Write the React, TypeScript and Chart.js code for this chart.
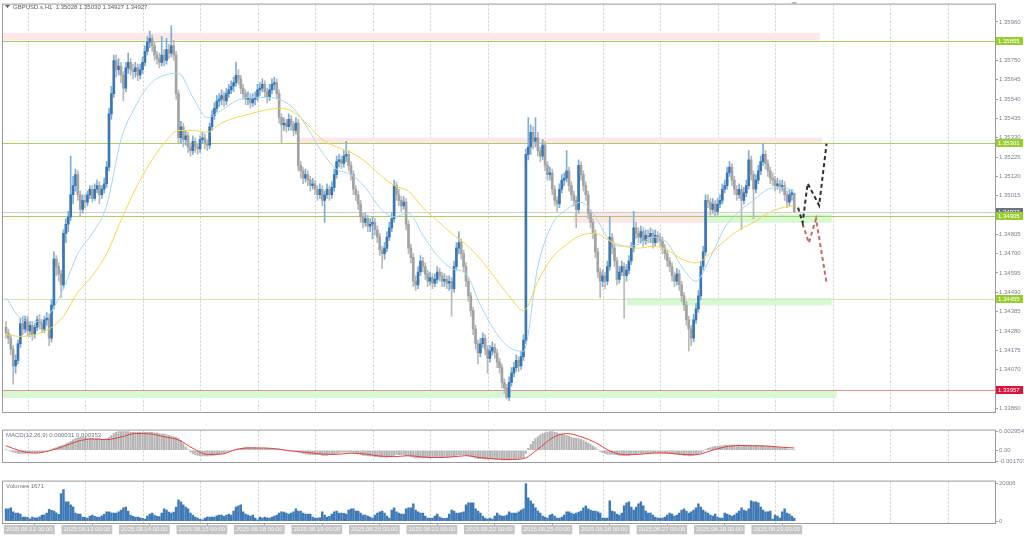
import React, { useEffect, useRef } from "react";
import { Chart, registerables } from "chart.js";

Chart.register(...registerables);

const FONT = "'Liberation Sans', Arial, sans-serif";

// ---- hourly candles (index = bar number, 2025.08.12 -> 2025.08.29) ----
const opens = [
  1.3430, 1.3427, 1.3424, 1.3418, 1.3409, 1.3412, 1.3421, 1.3432, 1.3429, 1.3434,
  1.3428, 1.3431, 1.3426, 1.3430, 1.3434, 1.3432, 1.3429, 1.3434, 1.3435, 1.3424,
  1.3442, 1.3467, 1.3463, 1.3459, 1.3453, 1.3481, 1.3486, 1.3490, 1.3502, 1.3507,
  1.3513, 1.3502, 1.3494, 1.3499, 1.3498, 1.3502, 1.3505, 1.3500, 1.3505, 1.3507,
  1.3502, 1.3505, 1.3508, 1.3517, 1.3546, 1.3557, 1.3575, 1.3570, 1.3572, 1.3567,
  1.3560, 1.3571, 1.3574, 1.3570, 1.3569, 1.3571, 1.3567, 1.3570, 1.3574, 1.3580,
  1.3585, 1.3587, 1.3583, 1.3578, 1.3576, 1.3574, 1.3578, 1.3575, 1.3581, 1.3579,
  1.3583, 1.3578, 1.3557, 1.3533, 1.3539, 1.3532, 1.3534, 1.3528, 1.3526, 1.3531,
  1.3528, 1.3527, 1.3532, 1.3533, 1.3530, 1.3529, 1.3539, 1.3545, 1.3549, 1.3553,
  1.3554, 1.3556, 1.3553, 1.3557, 1.3559, 1.3561, 1.3563, 1.3567, 1.3565, 1.3560,
  1.3557, 1.3554, 1.3555, 1.3552, 1.3554, 1.3555, 1.3559, 1.3560, 1.3562, 1.3558,
  1.3555, 1.3559, 1.3562, 1.3563, 1.3557, 1.3544, 1.3540, 1.3541, 1.3539, 1.3543,
  1.3540, 1.3537, 1.3541, 1.3518, 1.3515, 1.3511, 1.3513, 1.3510, 1.3507, 1.3508,
  1.3505, 1.3502, 1.3505, 1.3499, 1.3502, 1.3505, 1.3502, 1.3506, 1.3513, 1.3520,
  1.3521, 1.3519, 1.3523, 1.3524, 1.3518, 1.3513, 1.3505, 1.3502, 1.3497, 1.3490,
  1.3487, 1.3489, 1.3485, 1.3486, 1.3487, 1.3483, 1.3479, 1.3472, 1.3470, 1.3473,
  1.3479, 1.3484, 1.3489, 1.3507, 1.3502, 1.3499, 1.3496, 1.3498, 1.3486, 1.3473,
  1.3468, 1.3455, 1.3453, 1.3460, 1.3466, 1.3463, 1.3459, 1.3455, 1.3457, 1.3454,
  1.3456, 1.3460, 1.3458, 1.3455, 1.3456, 1.3454, 1.3455, 1.3451, 1.3463, 1.3473,
  1.3476, 1.3470, 1.3463, 1.3455, 1.3447, 1.3439, 1.3429, 1.3421, 1.3416, 1.3421,
  1.3424, 1.3418, 1.3413, 1.3417, 1.3419, 1.3416, 1.3411, 1.3408, 1.3400, 1.3397,
  1.3392, 1.3400, 1.3405, 1.3408, 1.3412, 1.3409, 1.3414, 1.3423, 1.3524, 1.3528,
  1.3536, 1.3531, 1.3533, 1.3526, 1.3523, 1.3529, 1.3518, 1.3513, 1.3514, 1.3505,
  1.3499, 1.3497, 1.3505, 1.3510, 1.3511, 1.3515, 1.3507, 1.3502, 1.3499, 1.3494,
  1.3518, 1.3513, 1.3507, 1.3502, 1.3492, 1.3487, 1.3481, 1.3471, 1.3460, 1.3455,
  1.3458, 1.3455, 1.3463, 1.3479, 1.3473, 1.3466, 1.3456, 1.3460, 1.3463, 1.3458,
  1.3461, 1.3466, 1.3473, 1.3484, 1.3481, 1.3479, 1.3482, 1.3477, 1.3480, 1.3479,
  1.3481, 1.3476, 1.3480, 1.3479, 1.3477, 1.3473, 1.3470, 1.3466, 1.3463, 1.3458,
  1.3455, 1.3459, 1.3453, 1.3447, 1.3442, 1.3434, 1.3429, 1.3424, 1.3434, 1.3440,
  1.3447, 1.3463, 1.3471, 1.3499, 1.3498, 1.3494, 1.3497, 1.3493, 1.3497, 1.3499,
  1.3505, 1.3507, 1.3514, 1.3517, 1.3510, 1.3505, 1.3502, 1.3505, 1.3499, 1.3503,
  1.3507, 1.3521, 1.3513, 1.3505, 1.3510, 1.3515, 1.3520, 1.3524, 1.3519, 1.3515,
  1.3511, 1.3510, 1.3507, 1.3508, 1.3506, 1.3507, 1.3502, 1.3498, 1.3502, 1.35028,
];
const highs = [
  1.3433, 1.3429, 1.3426, 1.3420, 1.3415, 1.3423, 1.3435, 1.3436, 1.3436, 1.3436,
  1.3433, 1.3433, 1.3432, 1.3436, 1.3437, 1.3434, 1.3436, 1.3438, 1.3437, 1.3445,
  1.3471, 1.3469, 1.3465, 1.3461, 1.3483, 1.3489, 1.3493, 1.3523, 1.3512, 1.3516,
  1.3515, 1.3504, 1.3502, 1.3502, 1.3504, 1.3507, 1.3507, 1.3508, 1.3510, 1.3509,
  1.3507, 1.3511, 1.3520, 1.3549, 1.3561, 1.3578, 1.3578, 1.3576, 1.3574, 1.3569,
  1.3574, 1.3579, 1.3576, 1.3573, 1.3574, 1.3573, 1.3573, 1.3577, 1.3583, 1.3588,
  1.3591, 1.3589, 1.3585, 1.3580, 1.3579, 1.3588, 1.3581, 1.3587, 1.3584, 1.3594,
  1.3586, 1.3580, 1.3559, 1.3542, 1.3541, 1.3537, 1.3536, 1.3530, 1.3534, 1.3533,
  1.3530, 1.3534, 1.3536, 1.3535, 1.3532, 1.3541, 1.3548, 1.3552, 1.3556, 1.3557,
  1.3559, 1.3558, 1.3560, 1.3562, 1.3564, 1.3566, 1.3574, 1.3570, 1.3567, 1.3562,
  1.3559, 1.3558, 1.3557, 1.3557, 1.3558, 1.3562, 1.3563, 1.3565, 1.3564, 1.3560,
  1.3562, 1.3565, 1.3566, 1.3565, 1.3559, 1.3546, 1.3544, 1.3543, 1.3546, 1.3545,
  1.3542, 1.3544, 1.3543, 1.3520, 1.3517, 1.3516, 1.3515, 1.3512, 1.3511, 1.3510,
  1.3507, 1.3508, 1.3507, 1.3504, 1.3508, 1.3507, 1.3509, 1.3516, 1.3523, 1.3524,
  1.3523, 1.3526, 1.3531, 1.3526, 1.3520, 1.3515, 1.3507, 1.3504, 1.3499, 1.3492,
  1.3492, 1.3491, 1.3489, 1.3490, 1.3489, 1.3485, 1.3481, 1.3474, 1.3476, 1.3482,
  1.3487, 1.3492, 1.3510, 1.3509, 1.3505, 1.3501, 1.3501, 1.3500, 1.3488, 1.3475,
  1.3470, 1.3458, 1.3463, 1.3469, 1.3468, 1.3465, 1.3461, 1.3460, 1.3459, 1.3459,
  1.3463, 1.3462, 1.3460, 1.3459, 1.3458, 1.3458, 1.3457, 1.3466, 1.3476, 1.3482,
  1.3478, 1.3472, 1.3465, 1.3457, 1.3449, 1.3441, 1.3431, 1.3423, 1.3424, 1.3427,
  1.3426, 1.3420, 1.3420, 1.3422, 1.3421, 1.3418, 1.3413, 1.3410, 1.3402, 1.3399,
  1.3403, 1.3408, 1.3411, 1.3415, 1.3414, 1.3417, 1.3426, 1.3527, 1.3544, 1.3540,
  1.3539, 1.3544, 1.3536, 1.3528, 1.3532, 1.3531, 1.3520, 1.3517, 1.3516, 1.3507,
  1.3501, 1.3508, 1.3513, 1.3514, 1.3526, 1.3517, 1.3509, 1.3504, 1.3501, 1.3521,
  1.3520, 1.3515, 1.3509, 1.3504, 1.3494, 1.3489, 1.3483, 1.3473, 1.3462, 1.3461,
  1.3460, 1.3466, 1.3490, 1.3481, 1.3475, 1.3468, 1.3463, 1.3466, 1.3465, 1.3464,
  1.3469, 1.3476, 1.3493, 1.3487, 1.3484, 1.3485, 1.3484, 1.3483, 1.3483, 1.3484,
  1.3483, 1.3483, 1.3482, 1.3481, 1.3479, 1.3475, 1.3472, 1.3468, 1.3465, 1.3460,
  1.3462, 1.3461, 1.3455, 1.3449, 1.3444, 1.3436, 1.3431, 1.3437, 1.3443, 1.3450,
  1.3466, 1.3474, 1.3502, 1.3502, 1.3500, 1.3500, 1.3499, 1.3500, 1.3502, 1.3508,
  1.3510, 1.3517, 1.3520, 1.3519, 1.3512, 1.3507, 1.3508, 1.3507, 1.3506, 1.3510,
  1.3526, 1.3523, 1.3515, 1.3513, 1.3518, 1.3523, 1.3530, 1.3526, 1.3521, 1.3517,
  1.3514, 1.3512, 1.3511, 1.3510, 1.3510, 1.3509, 1.3504, 1.3505, 1.3505, 1.35030,
];
const lows = [
  1.3424, 1.3421, 1.3415, 1.3399, 1.3405, 1.3410, 1.3419, 1.3426, 1.3427, 1.3425,
  1.3425, 1.3423, 1.3424, 1.3428, 1.3429, 1.3427, 1.3427, 1.3431, 1.3420, 1.3422,
  1.3440, 1.3458, 1.3455, 1.3446, 1.3451, 1.3476, 1.3482, 1.3488, 1.3497, 1.3504,
  1.3499, 1.3490, 1.3492, 1.3495, 1.3496, 1.3500, 1.3498, 1.3499, 1.3503, 1.3497,
  1.3500, 1.3503, 1.3506, 1.3515, 1.3543, 1.3555, 1.3566, 1.3567, 1.3563, 1.3553,
  1.3558, 1.3568, 1.3567, 1.3565, 1.3566, 1.3564, 1.3565, 1.3568, 1.3572, 1.3578,
  1.3582, 1.3580, 1.3575, 1.3573, 1.3571, 1.3572, 1.3572, 1.3573, 1.3576, 1.3577,
  1.3575, 1.3554, 1.3530, 1.3530, 1.3528, 1.3529, 1.3525, 1.3523, 1.3524, 1.3525,
  1.3524, 1.3525, 1.3530, 1.3527, 1.3526, 1.3527, 1.3537, 1.3543, 1.3547, 1.3550,
  1.3551, 1.3550, 1.3551, 1.3555, 1.3557, 1.3558, 1.3561, 1.3562, 1.3557, 1.3554,
  1.3551, 1.3551, 1.3549, 1.3550, 1.3551, 1.3553, 1.3556, 1.3558, 1.3555, 1.3552,
  1.3553, 1.3557, 1.3559, 1.3554, 1.3541, 1.3530, 1.3537, 1.3536, 1.3537, 1.3537,
  1.3534, 1.3535, 1.3515, 1.3511, 1.3508, 1.3509, 1.3507, 1.3504, 1.3505, 1.3502,
  1.3499, 1.3500, 1.3496, 1.3487, 1.3500, 1.3499, 1.3500, 1.3504, 1.3511, 1.3517,
  1.3516, 1.3517, 1.3520, 1.3515, 1.3510, 1.3502, 1.3499, 1.3494, 1.3487, 1.3484,
  1.3485, 1.3482, 1.3482, 1.3478, 1.3480, 1.3476, 1.3469, 1.3462, 1.3467, 1.3471,
  1.3477, 1.3482, 1.3487, 1.3499, 1.3496, 1.3493, 1.3494, 1.3483, 1.3470, 1.3465,
  1.3452, 1.3450, 1.3451, 1.3458, 1.3460, 1.3456, 1.3452, 1.3453, 1.3451, 1.3452,
  1.3454, 1.3455, 1.3452, 1.3452, 1.3451, 1.3450, 1.3436, 1.3449, 1.3461, 1.3470,
  1.3467, 1.3460, 1.3452, 1.3444, 1.3436, 1.3426, 1.3418, 1.3410, 1.3414, 1.3419,
  1.3415, 1.3405, 1.3411, 1.3415, 1.3413, 1.3408, 1.3405, 1.3397, 1.3394, 1.3391,
  1.3390, 1.3398, 1.3403, 1.3406, 1.3406, 1.3407, 1.3412, 1.3421, 1.3521, 1.3524,
  1.3527, 1.3528, 1.3523, 1.3520, 1.3521, 1.3515, 1.3510, 1.3510, 1.3502, 1.3496,
  1.3493, 1.3495, 1.3503, 1.3507, 1.3509, 1.3504, 1.3499, 1.3496, 1.3484, 1.3492,
  1.3510, 1.3504, 1.3499, 1.3489, 1.3484, 1.3478, 1.3468, 1.3457, 1.3446, 1.3452,
  1.3451, 1.3453, 1.3461, 1.3470, 1.3463, 1.3453, 1.3454, 1.3458, 1.3435, 1.3455,
  1.3459, 1.3464, 1.3471, 1.3478, 1.3476, 1.3476, 1.3474, 1.3475, 1.3476, 1.3476,
  1.3473, 1.3474, 1.3476, 1.3474, 1.3470, 1.3467, 1.3463, 1.3460, 1.3455, 1.3452,
  1.3453, 1.3450, 1.3444, 1.3439, 1.3431, 1.3417, 1.3420, 1.3422, 1.3432, 1.3438,
  1.3445, 1.3461, 1.3469, 1.3495, 1.3491, 1.3492, 1.3490, 1.3491, 1.3495, 1.3497,
  1.3503, 1.3505, 1.3512, 1.3507, 1.3502, 1.3499, 1.3500, 1.3483, 1.3497, 1.3501,
  1.3505, 1.3510, 1.3489, 1.3503, 1.3508, 1.3513, 1.3518, 1.3516, 1.3512, 1.3508,
  1.3507, 1.3504, 1.3505, 1.3503, 1.3504, 1.3499, 1.3495, 1.3496, 1.3499, 1.34927,
];
const closes = [
  1.3427, 1.3424, 1.3418, 1.3409, 1.3412, 1.3421, 1.3432, 1.3429, 1.3434, 1.3428,
  1.3431, 1.3426, 1.3430, 1.3434, 1.3432, 1.3429, 1.3434, 1.3435, 1.3424, 1.3442,
  1.3467, 1.3463, 1.3459, 1.3453, 1.3481, 1.3486, 1.3490, 1.3502, 1.3507, 1.3513,
  1.3502, 1.3494, 1.3499, 1.3498, 1.3502, 1.3505, 1.3500, 1.3505, 1.3507, 1.3502,
  1.3505, 1.3508, 1.3517, 1.3546, 1.3557, 1.3575, 1.3570, 1.3572, 1.3567, 1.3560,
  1.3571, 1.3574, 1.3570, 1.3569, 1.3571, 1.3567, 1.3570, 1.3574, 1.3580, 1.3585,
  1.3587, 1.3583, 1.3578, 1.3576, 1.3574, 1.3578, 1.3575, 1.3581, 1.3579, 1.3583,
  1.3578, 1.3557, 1.3533, 1.3539, 1.3532, 1.3534, 1.3528, 1.3526, 1.3531, 1.3528,
  1.3527, 1.3532, 1.3533, 1.3530, 1.3529, 1.3539, 1.3545, 1.3549, 1.3553, 1.3554,
  1.3556, 1.3553, 1.3557, 1.3559, 1.3561, 1.3563, 1.3567, 1.3565, 1.3560, 1.3557,
  1.3554, 1.3555, 1.3552, 1.3554, 1.3555, 1.3559, 1.3560, 1.3562, 1.3558, 1.3555,
  1.3559, 1.3562, 1.3563, 1.3557, 1.3544, 1.3540, 1.3541, 1.3539, 1.3543, 1.3540,
  1.3537, 1.3541, 1.3518, 1.3515, 1.3511, 1.3513, 1.3510, 1.3507, 1.3508, 1.3505,
  1.3502, 1.3505, 1.3499, 1.3502, 1.3505, 1.3502, 1.3506, 1.3513, 1.3520, 1.3521,
  1.3519, 1.3523, 1.3524, 1.3518, 1.3513, 1.3505, 1.3502, 1.3497, 1.3490, 1.3487,
  1.3489, 1.3485, 1.3486, 1.3487, 1.3483, 1.3479, 1.3472, 1.3470, 1.3473, 1.3479,
  1.3484, 1.3489, 1.3507, 1.3502, 1.3499, 1.3496, 1.3498, 1.3486, 1.3473, 1.3468,
  1.3455, 1.3453, 1.3460, 1.3466, 1.3463, 1.3459, 1.3455, 1.3457, 1.3454, 1.3456,
  1.3460, 1.3458, 1.3455, 1.3456, 1.3454, 1.3455, 1.3451, 1.3463, 1.3473, 1.3476,
  1.3470, 1.3463, 1.3455, 1.3447, 1.3439, 1.3429, 1.3421, 1.3416, 1.3421, 1.3424,
  1.3418, 1.3413, 1.3417, 1.3419, 1.3416, 1.3411, 1.3408, 1.3400, 1.3397, 1.3392,
  1.3400, 1.3405, 1.3408, 1.3412, 1.3409, 1.3414, 1.3423, 1.3524, 1.3528, 1.3536,
  1.3531, 1.3533, 1.3526, 1.3523, 1.3529, 1.3518, 1.3513, 1.3514, 1.3505, 1.3499,
  1.3497, 1.3505, 1.3510, 1.3511, 1.3515, 1.3507, 1.3502, 1.3499, 1.3494, 1.3518,
  1.3513, 1.3507, 1.3502, 1.3492, 1.3487, 1.3481, 1.3471, 1.3460, 1.3455, 1.3458,
  1.3455, 1.3463, 1.3479, 1.3473, 1.3466, 1.3456, 1.3460, 1.3463, 1.3458, 1.3461,
  1.3466, 1.3473, 1.3484, 1.3481, 1.3479, 1.3482, 1.3477, 1.3480, 1.3479, 1.3481,
  1.3476, 1.3480, 1.3479, 1.3477, 1.3473, 1.3470, 1.3466, 1.3463, 1.3458, 1.3455,
  1.3459, 1.3453, 1.3447, 1.3442, 1.3434, 1.3429, 1.3424, 1.3434, 1.3440, 1.3447,
  1.3463, 1.3471, 1.3499, 1.3498, 1.3494, 1.3497, 1.3493, 1.3497, 1.3499, 1.3505,
  1.3507, 1.3514, 1.3517, 1.3510, 1.3505, 1.3502, 1.3505, 1.3499, 1.3503, 1.3507,
  1.3521, 1.3513, 1.3505, 1.3510, 1.3515, 1.3520, 1.3524, 1.3519, 1.3515, 1.3511,
  1.3510, 1.3507, 1.3508, 1.3506, 1.3507, 1.3502, 1.3498, 1.3502, 1.3503, 1.34927,
];
const volumes = [
  6500, 6500, 7000, 4900, 4300, 4300, 3800, 2200, 2200, 2000,
  1200, 2100, 1700, 1800, 2300, 3200, 3400, 4300, 6300, 5800,
  5300, 4400, 3600, 14600, 16800, 10300, 10300, 8600, 7600, 4300,
  3800, 3800, 2200, 2000, 1600, 2700, 3200, 2500, 2200, 2200,
  2800, 3600, 4900, 4900, 4400, 4300, 4300, 5000, 5900, 7000,
  7500, 5400, 3200, 2600, 2200, 2200, 1700, 1500, 1100, 2700,
  3800, 4300, 3200, 2600, 2400, 4300, 6500, 5900, 4800, 4300,
  4800, 7500, 11300, 10200, 8600, 7500, 6500, 4300, 3200, 2200,
  1600, 1000, 700, 1600, 2100, 2200, 2100, 2200, 2800, 3200,
  3200, 2500, 3200, 3700, 3200, 5400, 7500, 8100, 8600, 4900,
  3800, 3200, 2700, 3200, 1600, 700, 2200, 1600, 2200, 1700,
  1600, 2200, 2700, 3200, 4300, 4900, 4800, 4300, 3700, 4300,
  4900, 6500, 5400, 5400, 4300, 3800, 3800, 3700, 2200, 1600,
  1600, 1700, 4900, 3200, 2200, 2600, 3800, 4900, 5400, 4300,
  4300, 4200, 3800, 5900, 6500, 6500, 5400, 5400, 4300, 3200,
  3200, 2700, 2200, 1600, 3200, 4300, 4900, 5400, 4300, 2700,
  1600, 5900, 7000, 4900, 4300, 3800, 3800, 6500, 7000, 7000,
  9200, 5900, 4900, 4300, 4300, 2700, 1600, 1600, 1600, 2700,
  3800, 2200, 1600, 1500, 1600, 3700, 5900, 5400, 4300, 4300,
  4500, 4900, 8600, 9700, 9700, 9700, 6500, 5400, 4300, 2700,
  1600, 1100, 1600, 1100, 2700, 4300, 3200, 2700, 2700, 3200,
  4900, 4300, 4300, 4300, 4900, 5900, 6500, 20006, 12400, 10800,
  9200, 7000, 5400, 4300, 2700, 2200, 1600, 3200, 3700, 2700,
  1600, 1600, 2100, 3200, 4900, 4900, 4300, 3800, 4300, 4800,
  5400, 7000, 8100, 6500, 5900, 5400, 5400, 4900, 4300, 1600,
  1600, 1600, 10800, 5400, 4900, 3700, 3200, 4300, 8100, 9700,
  10300, 7500, 5900, 7500, 9200, 10300, 8100, 5400, 4300, 4300,
  3200, 2200, 1600, 1600, 1600, 2200, 3200, 4300, 3800, 2700,
  3200, 4300, 5900, 6500, 5400, 4300, 4900, 5900, 7000, 9200,
  7500, 5900, 4900, 4300, 3200, 2700, 3800, 2200, 1600, 1600,
  4300, 3800, 3200, 2700, 3200, 4300, 5400, 7000, 5900, 5400,
  6500, 10800, 10300, 10300, 9700, 7500, 5900, 4900, 4900, 5400,
  1100, 3200, 2700, 1600, 4900, 6500, 4300, 3800, 2700, 1671,
];
// MACD(12,26,9) main line, shown as histogram
const macdMain = [
  0.0001, 0, -0.0002, -0.0003, -0.0004, -0.0005, -0.0005, -0.0005, -0.0005, -0.0005,
  -0.0004, -0.0004, -0.0004, -0.0004, -0.0003, -0.0003, -0.0002, -0.0001, 0, 0.0001,
  0.0003, 0.0004, 0.0006, 0.0007, 0.0008, 0.0010, 0.0012, 0.0014, 0.0016, 0.0018,
  0.0019, 0.0020, 0.0020, 0.0020, 0.0019, 0.0019, 0.0019, 0.0018, 0.0018, 0.0018,
  0.0017, 0.0017, 0.0018, 0.0020, 0.0023, 0.0026, 0.0028, 0.0029, 0.0029, 0.0029,
  0.0029, 0.0029, 0.0028, 0.0028, 0.0028, 0.0028, 0.0028, 0.0028, 0.0028, 0.0028,
  0.0028, 0.0028, 0.0027, 0.0027, 0.0026, 0.0025, 0.0025, 0.0024, 0.0023, 0.0022,
  0.0021, 0.0020, 0.0018, 0.0015, 0.0010, 0.0005, 0.0001, -0.0003, -0.0005, -0.0007,
  -0.0008, -0.0009, -0.0009, -0.0009, -0.0009, -0.0009, -0.0008, -0.0008, -0.0007, -0.0006,
  -0.0005, -0.0004, -0.0003, -0.0002, -0.0001, 0, 0.0001, 0.0002, 0.0003, 0.0004,
  0.0005, 0.0005, 0.0004, 0.0004, 0.0004, 0.0003, 0.0003, 0.0003, 0.0003, 0.0003,
  0.0003, 0.0002, 0.0002, 0.0002, 0.0002, 0.0001, 0, -0.0001, -0.0001, -0.0001,
  -0.0001, -0.0002, -0.0003, -0.0004, -0.0005, -0.0006, -0.0006, -0.0007, -0.0007, -0.0007,
  -0.0007, -0.0007, -0.0008, -0.0008, -0.0008, -0.0007, -0.0007, -0.0006, -0.0005, -0.0004,
  -0.0003, -0.0003, -0.0003, -0.0003, -0.0003, -0.0004, -0.0005, -0.0006, -0.0007, -0.0008,
  -0.0008, -0.0009, -0.0009, -0.0009, -0.0010, -0.0010, -0.0011, -0.0011, -0.0011, -0.0011,
  -0.0010, -0.0010, -0.0008, -0.0007, -0.0007, -0.0007, -0.0007, -0.0008, -0.0009, -0.0010,
  -0.0011, -0.0012, -0.0012, -0.0012, -0.0012, -0.0012, -0.0012, -0.0012, -0.0011, -0.0011,
  -0.0011, -0.0010, -0.0010, -0.0010, -0.0010, -0.0010, -0.0010, -0.0009, -0.0008, -0.0007,
  -0.0007, -0.0007, -0.0008, -0.0009, -0.0010, -0.0011, -0.0012, -0.0013, -0.0013, -0.0013,
  -0.0014, -0.0014, -0.0014, -0.0014, -0.0014, -0.0014, -0.0014, -0.0015, -0.0015, -0.0015,
  -0.0015, -0.0014, -0.0014, -0.0013, -0.0013, -0.0012, -0.0012, -0.0005, 0.0003, 0.0009,
  0.0014, 0.0018, 0.0021, 0.0024, 0.0026, 0.0027, 0.0028, 0.0029, 0.0029, 0.0028,
  0.0027, 0.0026, 0.0025, 0.0024, 0.0023, 0.0022, 0.0020, 0.0019, 0.0019, 0.0018,
  0.0017, 0.0015, 0.0013, 0.0011, 0.0009, 0.0007, 0.0004, 0.0001, -0.0002, -0.0004,
  -0.0005, -0.0006, -0.0006, -0.0006, -0.0007, -0.0007, -0.0008, -0.0008, -0.0008, -0.0008,
  -0.0008, -0.0007, -0.0006, -0.0006, -0.0005, -0.0005, -0.0005, -0.0004, -0.0004, -0.0004,
  -0.0004, -0.0004, -0.0004, -0.0004, -0.0004, -0.0004, -0.0005, -0.0005, -0.0005, -0.0006,
  -0.0006, -0.0007, -0.0007, -0.0008, -0.0008, -0.0009, -0.0009, -0.0008, -0.0007, -0.0006,
  -0.0004, -0.0002, 0.0001, 0.0003, 0.0004, 0.0005, 0.0006, 0.0006, 0.0007, 0.0007,
  0.0008, 0.0008, 0.0008, 0.0008, 0.0008, 0.0008, 0.0008, 0.0007, 0.0007, 0.0007,
  0.0007, 0.0007, 0.0007, 0.0007, 0.0007, 0.0007, 0.0007, 0.0006, 0.0006, 0.0006,
  0.0005, 0.0005, 0.0004, 0.0004, 0.0003, 0.0003, 0.0002, 0.0001, 0.0001, 0.000031,
];

// indicator lines read at every 6th bar
const sampleIdx = [
  0, 6, 12, 18, 24, 30, 36, 42, 48, 54, 60, 66, 72, 78, 84, 90, 96, 102, 108, 114,
  120, 126, 132, 138, 144, 150, 156, 162, 168, 174, 180, 186, 192, 198, 204, 210, 216, 222, 228, 234,
  240, 246, 252, 258, 264, 270, 276, 282, 288, 294, 300, 306, 312, 318, 324, 329,
];
const maFast = [
  1.3446, 1.3435, 1.3433, 1.3437, 1.3451, 1.3470, 1.3481, 1.3496, 1.3532, 1.3550,
  1.3562, 1.3567, 1.3568, 1.3555, 1.3544, 1.3548, 1.3553, 1.3555, 1.3555, 1.3554,
  1.3549, 1.3538, 1.3525, 1.3516, 1.3513, 1.3506, 1.3495, 1.3490, 1.3492, 1.3480,
  1.3469, 1.3462, 1.3459, 1.3442, 1.3428, 1.3419, 1.3417, 1.3463, 1.3486, 1.3494,
  1.3498, 1.3490, 1.3477, 1.3474, 1.3475, 1.3479, 1.3476, 1.3463, 1.3455, 1.3468,
  1.3484, 1.3493, 1.3499, 1.3505, 1.3506, 1.3504,
];
const maSlow = [
  1.3426, 1.3425, 1.3426, 1.3429, 1.3436, 1.3449, 1.3458, 1.3470, 1.3488, 1.3505,
  1.3519, 1.3530, 1.3537, 1.3537, 1.3536, 1.3541, 1.3544, 1.3546, 1.3548, 1.3549,
  1.3547, 1.3540, 1.3532, 1.3528, 1.3525, 1.3520, 1.3513, 1.3507, 1.3504, 1.3495,
  1.3488, 1.3481, 1.3475, 1.3467, 1.3457, 1.3447, 1.3439, 1.3455, 1.3468, 1.3475,
  1.3480, 1.3481, 1.3477, 1.3474, 1.3473, 1.3474, 1.3472, 1.3467, 1.3465, 1.3470,
  1.3477, 1.3483, 1.3487, 1.3492, 1.3495, 1.3496,
];
const macdSignal = [
  0.0007, -0.0001, -0.00045, -0.0001, 0.0006, 0.0014, 0.00175, 0.00165, 0.00205, 0.0026,
  0.00255, 0.0021, 0.0016, 0.0003, -0.00065, -0.0006, 0.0001, 0.00035, 0.00035, 0.00015,
  -0.00015, -0.00035, -0.0006, -0.00065, -0.00045, -0.0006, -0.0009, -0.001, -0.00085, -0.00105,
  -0.00115, -0.00105, -0.00085, -0.00115, -0.00135, -0.00145, -0.0013, 0.00015, 0.0019, 0.0026,
  0.0021, 0.0012, -0.0001, -0.0007, -0.00065, -0.00045, -0.00045, -0.00065, -0.0007, -0.0001,
  0.0005, 0.00075, 0.0007, 0.00065, 0.00045, 0.000353,
];

// forecast arrows drawn after the last bar
const upPathIdx = [330.6, 332.5, 334.6, 339.4, 342.5];
const upPathPrice = [1.3495, 1.34868, 1.35082, 1.34962, 1.35298];
const downPathIdx = [332.5, 335.1, 338.1, 342.5];
const downPathPrice = [1.34863, 1.34758, 1.34889, 1.34541];

// axes
const priceTicks = [
  1.3386, 1.33965, 1.3407, 1.34175, 1.3428, 1.34385, 1.3449, 1.34595, 1.347, 1.34805,
  1.3491, 1.35015, 1.3512, 1.35225, 1.3533, 1.35435, 1.3554, 1.35645, 1.3575, 1.35855, 1.3596,
];
const macdTicks = [0.002954, 0, -0.001703];
const macdTickLabels = ["0.002954", "0.00", "-0.001703"];
const volumeTicks = [20006, 0];
const dateTickIdx = [0, 24, 48, 72, 96, 120, 144, 168, 192, 216, 240, 264, 288, 312];
const dateLabels = [
  "2025.08.12 00:00", "2025.08.13 00:00", "2025.08.14 00:00", "2025.08.15 00:00",
  "2025.08.18 00:00", "2025.08.19 00:00", "2025.08.20 00:00", "2025.08.21 00:00",
  "2025.08.22 00:00", "2025.08.25 00:00", "2025.08.26 00:00", "2025.08.27 00:00",
  "2025.08.28 00:00", "2025.08.29 00:00",
];
const dayStartIdx = [9, 33, 57, 81, 105, 129, 153, 177, 201, 225, 249, 273, 297, 321, 345, 369, 393];

// horizontal levels and zones
const levelPrices = [1.35855, 1.35301, 1.34905, 1.34455, 1.33957];
const levelColors = ["#a8d158", "#a8d158", "#a8d158", "#d3e8b3", "#e79090"];
const levelLabelBg = ["#9acd32", "#9acd32", "#9acd32", "#9acd32", "#dc143c"];
const bidPrice = 1.34927;

const zoneFrom = [-1.25, 121.3, 236.8, 292.4, 259.0, -1.25];
const zoneTo = [339.7, 340.7, 295.9, 344.6, 344.6, 346.7];
const zoneLow = [1.35858, 1.35297, 1.34868, 1.34868, 1.34419, 1.33915];
const zoneHigh = [1.359, 1.3533, 1.34928, 1.34915, 1.34459, 1.33955];
const zoneColors = ["#fde6ea", "#fde6ea", "#fde6ea", "#d6f8d4", "#d6f8d4", "#d6f8d4"];

const X_MIN = -1.25;
const X_MAX = 412.8;
const LABEL_COLOR = "#7a8594";

function drawDayGrid(chart: any) {
  const { ctx, chartArea } = chart;
  const xs = chart.scales.x;
  ctx.save();
  ctx.strokeStyle = "#cdcdcd";
  ctx.lineWidth = 1;
  ctx.setLineDash([2, 2]);
  dayStartIdx.forEach((d) => {
    const px = Math.round(xs.getPixelForValue(d)) + 0.5;
    if (px < chartArea.left || px > chartArea.right) return;
    ctx.beginPath();
    ctx.moveTo(px, chartArea.top);
    ctx.lineTo(px, chartArea.bottom);
    ctx.stroke();
  });
  ctx.restore();
}

function drawFrame(chart: any) {
  const { ctx, chartArea } = chart;
  ctx.save();
  ctx.strokeStyle = "#9b9b9b";
  ctx.lineWidth = 1;
  ctx.strokeRect(
    chartArea.left - 0.5,
    chartArea.top - 0.5,
    chartArea.right - chartArea.left + 1,
    chartArea.bottom - chartArea.top + 1
  );
  ctx.restore();
}

function labelBox(ctx: any, y: number, bg: string, text: string) {
  ctx.fillStyle = bg;
  ctx.fillRect(996, Math.round(y) - 4, 27, 8);
  ctx.fillStyle = "#ffffff";
  ctx.font = `6px ${FONT}`;
  ctx.textBaseline = "middle";
  ctx.textAlign = "left";
  ctx.fillText(text, 998, Math.round(y));
}

const mainPlugin = {
  id: "mainDecor",
  beforeDatasetsDraw(chart: any) {
    const { ctx, chartArea } = chart;
    const xs = chart.scales.x;
    const ys = chart.scales.y;
    drawDayGrid(chart);
    ctx.save();
    ctx.beginPath();
    ctx.rect(chartArea.left, chartArea.top, chartArea.right - chartArea.left, chartArea.bottom - chartArea.top);
    ctx.clip();
    zoneFrom.forEach((f, k) => {
      const x0 = xs.getPixelForValue(f);
      const x1 = xs.getPixelForValue(zoneTo[k]);
      const y0 = ys.getPixelForValue(zoneHigh[k]);
      const y1 = ys.getPixelForValue(zoneLow[k]);
      ctx.fillStyle = zoneColors[k];
      ctx.fillRect(x0, y0, x1 - x0, y1 - y0);
    });
    ctx.lineWidth = 1;
    ctx.strokeStyle = "#cfcfcf";
    const by = Math.round(ys.getPixelForValue(bidPrice)) + 0.5;
    ctx.beginPath();
    ctx.moveTo(chartArea.left, by);
    ctx.lineTo(chartArea.right, by);
    ctx.stroke();
    levelPrices.forEach((p, k) => {
      const y = Math.round(ys.getPixelForValue(p)) + 0.5;
      ctx.strokeStyle = levelColors[k];
      ctx.beginPath();
      ctx.moveTo(chartArea.left, y);
      ctx.lineTo(chartArea.right, y);
      ctx.stroke();
    });
    ctx.restore();
  },
  afterDraw(chart: any) {
    const { ctx } = chart;
    const xs = chart.scales.x;
    const ys = chart.scales.y;
    drawFrame(chart);
    ctx.save();
    labelBox(ctx, ys.getPixelForValue(bidPrice), "#69727d", bidPrice.toFixed(5));
    levelPrices.forEach((p, k) => labelBox(ctx, ys.getPixelForValue(p), levelLabelBg[k], p.toFixed(5)));
    // header
    ctx.fillStyle = "#555c66";
    ctx.beginPath();
    ctx.moveTo(5, 5);
    ctx.lineTo(10, 5);
    ctx.lineTo(7.5, 8);
    ctx.closePath();
    ctx.fill();
    ctx.font = `6px ${FONT}`;
    ctx.textBaseline = "middle";
    ctx.textAlign = "left";
    const last = closes.length - 1;
    ctx.fillText(
      `GBPUSD.s,H1  ${opens[last].toFixed(5)} ${highs[last].toFixed(5)} ${lows[last].toFixed(5)} ${closes[last].toFixed(5)}`,
      13,
      7
    );
    // chart shift marker
    const sx = xs.getPixelForValue(last);
    ctx.fillStyle = "#b5b5b5";
    ctx.beginPath();
    ctx.moveTo(sx - 3, 2);
    ctx.lineTo(sx + 3, 2);
    ctx.lineTo(sx, 5);
    ctx.closePath();
    ctx.fill();
    ctx.restore();
  },
};

function panelPlugin(title: string) {
  return {
    id: "panelDecor",
    beforeDatasetsDraw(chart: any) {
      drawDayGrid(chart);
    },
    afterDraw(chart: any) {
      const { ctx, chartArea } = chart;
      drawFrame(chart);
      ctx.save();
      ctx.fillStyle = "#6b7785";
      ctx.font = `6px ${FONT}`;
      ctx.textBaseline = "top";
      ctx.textAlign = "left";
      ctx.fillText(title, chartArea.left + 3, chartArea.top + 2);
      ctx.restore();
    },
  };
}

function xAxis(show: boolean) {
  return {
    type: "linear",
    min: X_MIN,
    max: X_MAX,
    offset: false,
    display: show,
    grid: { display: show, drawOnChartArea: false, drawTicks: true, tickLength: 2, color: "#9aa4b0" },
    border: { display: false },
    afterBuildTicks: (s: any) => {
      s.ticks = dateTickIdx.map((v) => ({ value: v }));
    },
    afterFit: (s: any) => {
      s.height = 14;
    },
    ticks: {
      autoSkip: false,
      maxRotation: 0,
      minRotation: 0,
      align: "start",
      padding: 1,
      font: { size: 6, family: FONT },
      color: "#f6f6f6",
      showLabelBackdrop: true,
      backdropColor: "#c5c5c5",
      backdropPadding: { top: 1, bottom: 1, left: 2, right: 2 },
      callback: (_v: any, i: number) => dateLabels[i] ?? "",
    },
  };
}

function yAxis(min: number, max: number, ticks: number[], fmt: (v: number, i: number) => string) {
  return {
    type: "linear",
    position: "right",
    min,
    max,
    afterFit: (s: any) => {
      s.width = 29;
    },
    afterBuildTicks: (s: any) => {
      s.ticks = ticks.map((v) => ({ value: v }));
    },
    grid: { display: true, drawOnChartArea: false, drawTicks: true, tickLength: 3, color: "#9aa4b0" },
    border: { display: false },
    ticks: {
      padding: 1,
      font: { size: 6, family: FONT },
      color: LABEL_COLOR,
      callback: (v: any, i: number) => fmt(Number(v), i),
    },
  };
}

const baseOptions = {
  responsive: false,
  animation: false,
  events: [],
  devicePixelRatio: 1,
  plugins: { legend: { display: false }, tooltip: { enabled: false }, title: { display: false } },
};

export default function App() {
  const mainRef = useRef<HTMLCanvasElement>(null);
  const macdRef = useRef<HTMLCanvasElement>(null);
  const volRef = useRef<HTMLCanvasElement>(null);

  useEffect(() => {
    const up = closes.map((c, i) => c >= opens[i]);
    const wickData = closes.map((_, i) => ({ x: i, y: [lows[i], highs[i]] }));
    const bodyData = closes.map((c, i) => ({ x: i, y: [opens[i], c] }));
    const fastData = sampleIdx.map((x, k) => ({ x, y: maFast[k] }));
    const slowData = sampleIdx.map((x, k) => ({ x, y: maSlow[k] }));
    const upPath = upPathIdx.map((x, k) => ({ x, y: upPathPrice[k] }));
    const downPath = downPathIdx.map((x, k) => ({ x, y: downPathPrice[k] }));

    const main = new Chart(mainRef.current as any, {
      type: "bar",
      data: {
        datasets: [
          {
            type: "bar",
            data: wickData,
            backgroundColor: up.map((u) => (u ? "#7eaed8" : "#b9b9b9")),
            barThickness: 1,
            grouped: false,
            borderWidth: 0,
            order: 4,
          },
          {
            type: "bar",
            data: bodyData,
            backgroundColor: up.map((u) => (u ? "#3a76b2" : "#a3a3a3")),
            barThickness: 2,
            minBarLength: 1,
            grouped: false,
            borderWidth: 0,
            order: 3,
          },
          {
            type: "line",
            data: slowData,
            borderColor: "#f7d64a",
            borderWidth: 1,
            pointRadius: 0,
            cubicInterpolationMode: "monotone",
            order: 2,
          },
          {
            type: "line",
            data: fastData,
            borderColor: "#a5d7f0",
            borderWidth: 1,
            pointRadius: 0,
            cubicInterpolationMode: "monotone",
            order: 2,
          },
          {
            type: "line",
            data: downPath,
            borderColor: "rgba(190,80,80,0.85)",
            borderWidth: 2,
            borderDash: [4, 3],
            pointRadius: 0,
            tension: 0,
            order: 1,
          },
          {
            type: "line",
            data: upPath,
            borderColor: "#2f2f2f",
            borderWidth: 2,
            borderDash: [4, 3],
            pointRadius: 0,
            tension: 0,
            order: 0,
          },
        ],
      } as any,
      options: {
        ...baseOptions,
        layout: { padding: { top: 2, left: 3, right: 0, bottom: 2 } },
        scales: {
          x: xAxis(false),
          y: yAxis(1.33839, 1.36054, priceTicks, (v) => v.toFixed(5)),
        },
      } as any,
      plugins: [mainPlugin],
    });

    const macd = new Chart(macdRef.current as any, {
      type: "bar",
      data: {
        datasets: [
          {
            type: "bar",
            data: macdMain.map((v, i) => ({ x: i, y: v })),
            backgroundColor: "#b5b5b5",
            barThickness: 1.5,
            grouped: false,
            borderWidth: 0,
            order: 2,
          },
          {
            type: "line",
            data: sampleIdx.map((x, k) => ({ x, y: macdSignal[k] })),
            borderColor: "#e8403a",
            borderWidth: 1,
            pointRadius: 0,
            cubicInterpolationMode: "monotone",
            order: 1,
          },
        ],
      } as any,
      options: {
        ...baseOptions,
        layout: { padding: { top: 2, left: 3, right: 0, bottom: 1 } },
        scales: {
          x: xAxis(false),
          y: yAxis(-0.001834, 0.003056, macdTicks, (_v, i) => macdTickLabels[i] ?? ""),
        },
      } as any,
      plugins: [
        panelPlugin(
          `MACD(12,26,9) ${macdMain[macdMain.length - 1].toFixed(6)} ${macdSignal[macdSignal.length - 1].toFixed(6)}`
        ),
      ],
    });

    const vol = new Chart(volRef.current as any, {
      type: "bar",
      data: {
        datasets: [
          {
            type: "bar",
            data: volumes.map((v, i) => ({ x: i, y: v })),
            backgroundColor: "#3f7ab6",
            barThickness: 1.8,
            grouped: false,
            borderWidth: 0,
          },
        ],
      } as any,
      options: {
        ...baseOptions,
        layout: { padding: { top: 2, left: 3, right: 0, bottom: 0 } },
        scales: {
          x: xAxis(true),
          y: yAxis(-1000, 21006, volumeTicks, (v) => String(v)),
        },
      } as any,
      plugins: [panelPlugin(`Volumes ${volumes[volumes.length - 1]}`)],
    });

    return () => {
      main.destroy();
      macd.destroy();
      vol.destroy();
    };
  }, []);

  const cv = (top: number, h: number) => ({
    position: "absolute" as const,
    left: 0,
    top,
    width: 1024,
    height: h,
    display: "block",
  });

  return (
    <div
      style={{
        position: "fixed",
        left: 0,
        top: 0,
        width: 1024,
        height: 537,
        background: "#ffffff",
        overflow: "hidden",
      }}
    >
      <canvas ref={mainRef} width={1024} height={428} style={cv(0, 428)} />
      <canvas ref={macdRef} width={1024} height={51} style={cv(426, 51)} />
      <canvas ref={volRef} width={1024} height={60} style={cv(477, 60)} />
    </div>
  );
}
